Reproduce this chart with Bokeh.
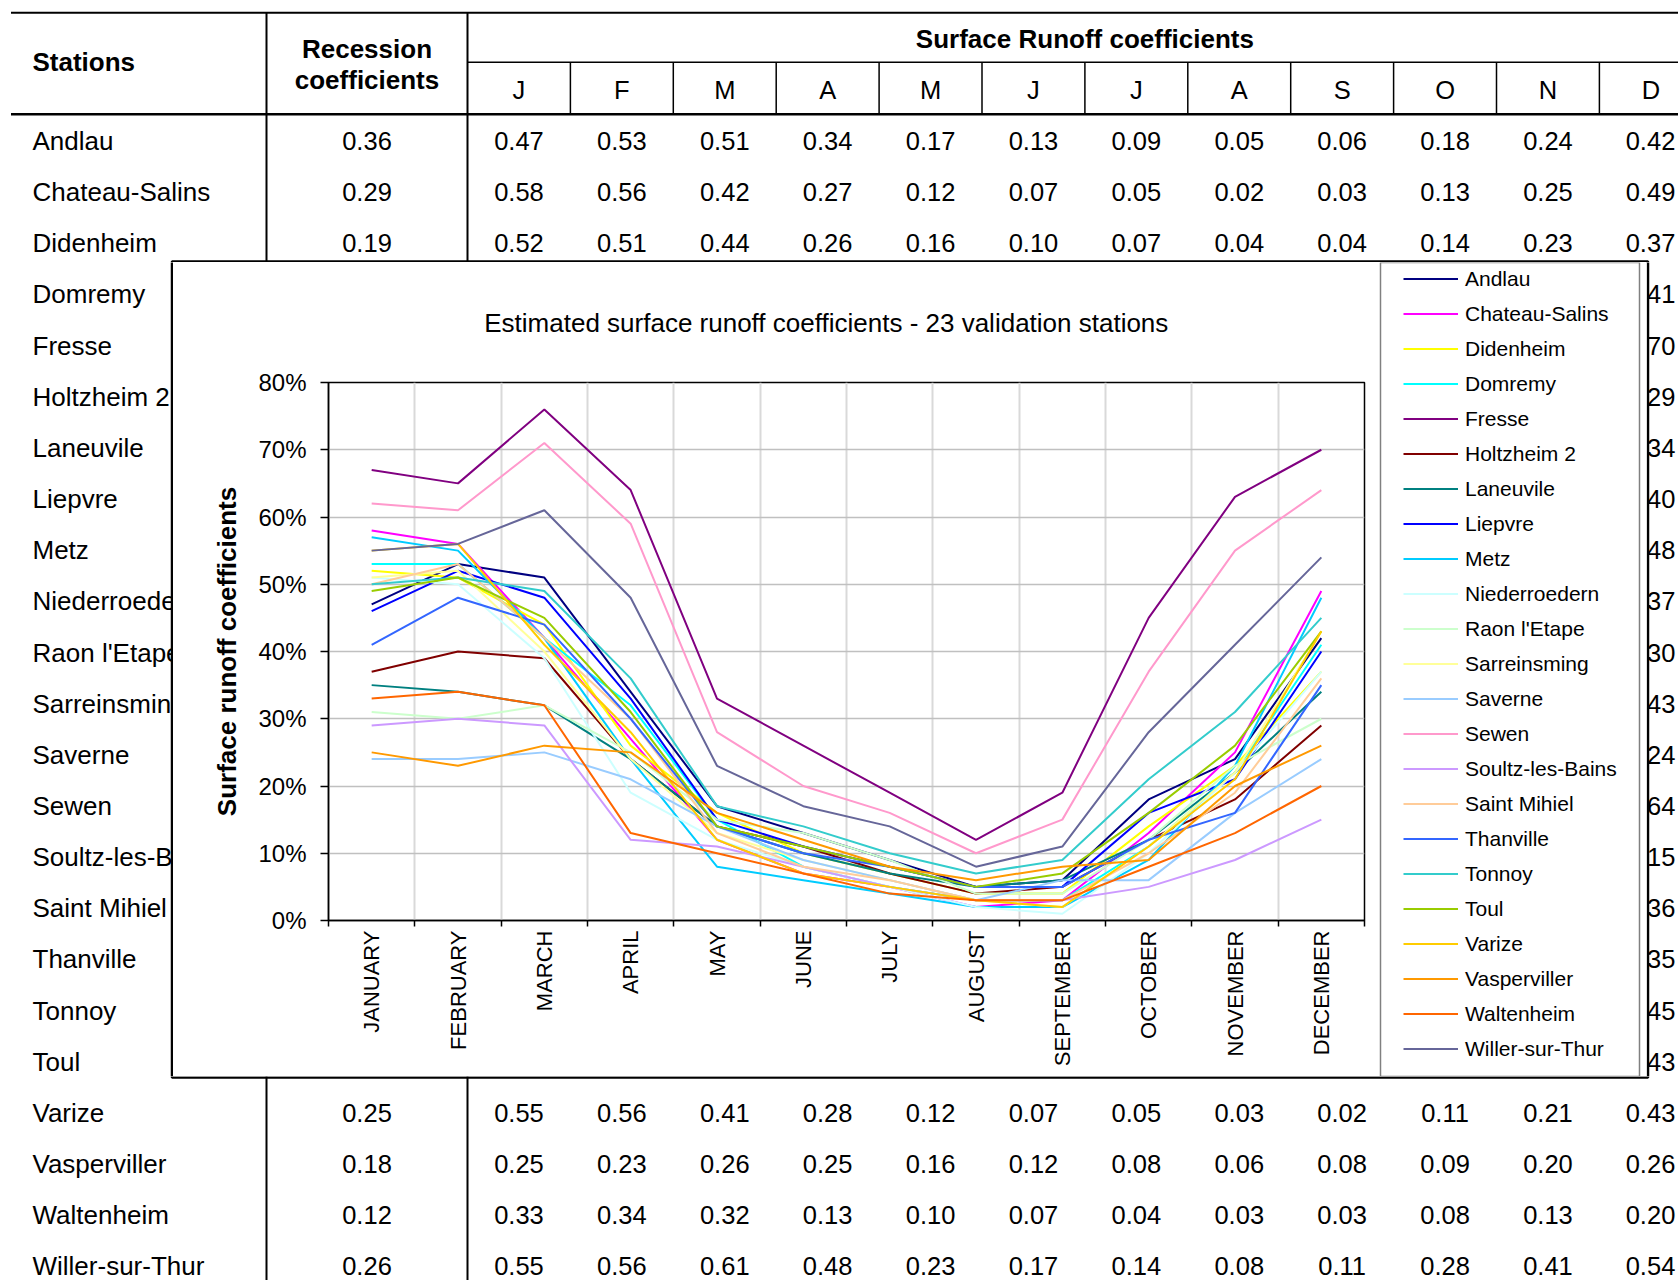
import math
from bokeh.plotting import figure
from bokeh.layouts import row, column
from bokeh.models import Range1d, FixedTicker, NumeralTickFormatter, Legend, LegendItem
from bokeh.core.properties import value
from bokeh.embed import file_html
from bokeh.resources import INLINE

# ---------------- data ----------------
stations = ["Andlau", "Chateau-Salins", "Didenheim", "Domremy", "Fresse", "Holtzheim 2",
            "Laneuvile", "Liepvre", "Metz", "Niederroedern", "Raon l'Etape", "Sarreinsming",
            "Saverne", "Sewen", "Soultz-les-Bains", "Saint Mihiel", "Thanville", "Tonnoy",
            "Toul", "Varize", "Vasperviller", "Waltenheim", "Willer-sur-Thur"]
month_letters = ["J", "F", "M", "A", "M", "J", "J", "A", "S", "O", "N", "D"]
month_names = ["JANUARY", "FEBRUARY", "MARCH", "APRIL", "MAY", "JUNE", "JULY", "AUGUST",
               "SEPTEMBER", "OCTOBER", "NOVEMBER", "DECEMBER"]

andlau         = [0.47, 0.53, 0.51, 0.34, 0.17, 0.13, 0.09, 0.05, 0.06, 0.18, 0.24, 0.42]
chateau_salins = [0.58, 0.56, 0.42, 0.27, 0.12, 0.07, 0.05, 0.02, 0.03, 0.13, 0.25, 0.49]
didenheim      = [0.52, 0.51, 0.44, 0.26, 0.16, 0.10, 0.07, 0.04, 0.04, 0.14, 0.23, 0.37]
domremy        = [0.53, 0.53, 0.42, 0.32, 0.15, 0.08, 0.05, 0.03, 0.03, 0.11, 0.22, 0.41]
fresse         = [0.67, 0.65, 0.76, 0.64, 0.33, 0.26, 0.19, 0.12, 0.19, 0.45, 0.63, 0.70]
holtzheim_2    = [0.37, 0.40, 0.39, 0.24, 0.14, 0.11, 0.07, 0.04, 0.05, 0.12, 0.18, 0.29]
laneuvile      = [0.35, 0.34, 0.32, 0.24, 0.14, 0.10, 0.07, 0.05, 0.06, 0.12, 0.22, 0.34]
liepvre        = [0.46, 0.52, 0.48, 0.33, 0.15, 0.11, 0.08, 0.05, 0.05, 0.16, 0.21, 0.40]
metz           = [0.57, 0.55, 0.42, 0.24, 0.08, 0.06, 0.04, 0.02, 0.02, 0.09, 0.23, 0.48]
niederroedern  = [0.51, 0.50, 0.39, 0.19, 0.12, 0.08, 0.05, 0.02, 0.01, 0.10, 0.22, 0.37]
raon_l_etape   = [0.31, 0.30, 0.32, 0.25, 0.15, 0.13, 0.09, 0.04, 0.04, 0.12, 0.23, 0.30]
sarreinsming   = [0.51, 0.52, 0.40, 0.24, 0.13, 0.09, 0.06, 0.03, 0.02, 0.11, 0.22, 0.43]
saverne        = [0.24, 0.24, 0.25, 0.21, 0.14, 0.09, 0.06, 0.03, 0.06, 0.06, 0.16, 0.24]
sewen          = [0.62, 0.61, 0.71, 0.59, 0.28, 0.20, 0.16, 0.10, 0.15, 0.37, 0.55, 0.64]
soultz         = [0.29, 0.30, 0.29, 0.12, 0.11, 0.08, 0.05, 0.03, 0.03, 0.05, 0.09, 0.15]
saint_mihiel   = [0.50, 0.53, 0.42, 0.30, 0.13, 0.08, 0.06, 0.03, 0.03, 0.10, 0.19, 0.36]
thanville      = [0.41, 0.48, 0.44, 0.30, 0.14, 0.10, 0.08, 0.05, 0.05, 0.12, 0.16, 0.35]
tonnoy         = [0.50, 0.51, 0.49, 0.36, 0.17, 0.14, 0.10, 0.07, 0.09, 0.21, 0.31, 0.45]
toul           = [0.49, 0.51, 0.45, 0.31, 0.14, 0.11, 0.08, 0.05, 0.07, 0.16, 0.26, 0.43]
varize         = [0.55, 0.56, 0.41, 0.28, 0.12, 0.07, 0.05, 0.03, 0.02, 0.11, 0.21, 0.43]
vasperviller   = [0.25, 0.23, 0.26, 0.25, 0.16, 0.12, 0.08, 0.06, 0.08, 0.09, 0.20, 0.26]
waltenheim     = [0.33, 0.34, 0.32, 0.13, 0.10, 0.07, 0.04, 0.03, 0.03, 0.08, 0.13, 0.20]
willer         = [0.55, 0.56, 0.61, 0.48, 0.23, 0.17, 0.14, 0.08, 0.11, 0.28, 0.41, 0.54]

series = [andlau, chateau_salins, didenheim, domremy, fresse, holtzheim_2, laneuvile, liepvre,
          metz, niederroedern, raon_l_etape, sarreinsming, saverne, sewen, soultz, saint_mihiel,
          thanville, tonnoy, toul, varize, vasperviller, waltenheim, willer]
colors = ["#000080", "#FF00FF", "#FFFF00", "#00FFFF", "#800080", "#800000", "#008080", "#0000FF",
          "#00CCFF", "#CCFFFF", "#CCFFCC", "#FFFF99", "#99CCFF", "#FF99CC", "#CC99FF", "#FFCC99",
          "#3366FF", "#33CCCC", "#99CC00", "#FFCC00", "#FF9900", "#FF6600", "#666699"]

# table rows whose every cell is visible (the chart covers the others)
table_full_rows = ["Andlau", "Chateau-Salins", "Didenheim", "Varize", "Vasperviller",
                   "Waltenheim", "Willer-sur-Thur"]
recession = [0.36, 0.29, 0.19, 0.25, 0.18, 0.12, 0.26]
y_ticks = [0.0, 0.1, 0.2, 0.3, 0.4, 0.5, 0.6, 0.7, 0.8]
title_text = "Estimated surface runoff coefficients - 23 validation stations"
y_label_text = "Surface runoff coefficients"

# ---------------- geometry (page pixels) ----------------
FONT = "Liberation Sans"
PW, PH = 1678, 1280                  # whole page used
CL, CR, CT, CB = 171.5, 1647.5, 261, 1077   # chart box
SPLIT_L, SPLIT_G, SPLIT_R = 173, 1378, 1646
MID_T, MID_B = 262, 1076
TITLE_B = 352
FX0, FX1, FY0, FY1 = 328, 1364, 382, 920    # plot frame

ROW0, ROWH = 140.4, 51.16
NAME_X, REC_X = 32, 366.5
COL0, COLW = 467.0, 102.9
D_X = 1650
TXT = "25.5px"
NTXT = "26px"
BTXT = "26px"

BOUNDS = {}


def piece(x0, x1, y0, y1):
    f = figure(width=int(x1 - x0), height=int(y1 - y0), output_backend="svg",
               toolbar_location=None, x_range=Range1d(x0, x1), y_range=Range1d(y1, y0),
               x_axis_location=None, y_axis_location=None, min_border=0)
    f.outline_line_color = None
    f.grid.visible = False
    f.background_fill_color = "white"
    f.border_fill_color = "white"
    BOUNDS[f.id] = (x0, x1, y0, y1)
    return f


def row_y(i):
    return ROW0 + ROWH * i


def col_x(k):
    return COL0 + COLW * (k + 0.5) if k < 11 else D_X


def texts(f, xs, ys, ts, align="center", size=TXT, style="normal"):
    # keep only the texts whose glyphs reach into this piece of the page
    x0, x1, y0, y1 = BOUNDS[f.id]
    px = float(size.replace("px", ""))
    keep = []
    for x, y, s in zip(xs, ys, ts):
        w = len(s) * 0.56 * px
        lo, hi = (x, x + w) if align == "left" else (x - w / 2, x + w / 2)
        if hi > x0 and lo < x1 and y + 0.42 * px > y0 and y - 0.42 * px < y1:
            keep.append((x, y, s))
    if not keep:
        return
    f.text(x=[k[0] for k in keep], y=[k[1] for k in keep], text=[k[2] for k in keep],
           text_align=align, text_baseline="middle", text_font=value(FONT),
           text_font_size=value(size), text_font_style=value(style), text_color="black")


def draw_table(f):
    texts(f, [NAME_X], [61], ["Stations"], align="left", size=BTXT, style="bold")
    texts(f, [REC_X, REC_X], [48, 79], ["Recession", "coefficients"], size=BTXT, style="bold")
    texts(f, [COL0 + COLW * 6], [38], ["Surface Runoff coefficients"], size=BTXT, style="bold")
    texts(f, [COL0 + COLW * (k + 0.5) for k in range(12)], [89] * 12, month_letters)
    texts(f, [NAME_X] * len(stations), [row_y(i) for i in range(len(stations))], stations,
          align="left", size=NTXT)
    xs, ys, ts = [], [], []
    for i, name in enumerate(stations):
        vals = series[i]
        if name in table_full_rows:
            xs.append(REC_X); ys.append(row_y(i))
            ts.append(f"{recession[table_full_rows.index(name)]:.2f}")
            for k in range(12):
                xs.append(col_x(k)); ys.append(row_y(i)); ts.append(f"{vals[k]:.2f}")
        else:
            xs.append(col_x(11)); ys.append(row_y(i)); ts.append(f"{vals[11]:.2f}")
    texts(f, xs, ys, ts)
    f.segment(x0=[10.5, COL0, 10.5], y0=[12.3, 61.8, 113.7], x1=[1700, 1700, 1700],
              y1=[12.3, 61.8, 113.7], line_color="black", line_width=[2, 1.5, 2.5])
    f.segment(x0=[266, COL0], y0=[12, 12], x1=[266, COL0], y1=[1300, 1300],
              line_color="black", line_width=2)
    seps = [COL0 + COLW * k for k in range(1, 13)]
    f.segment(x0=seps, y0=[62] * 12, x1=seps, y1=[113] * 12, line_color="black",
              line_width=1.5)
    # the chart box lies over the table
    f.quad(left=[CL], right=[CR], top=[CT], bottom=[CB], fill_color="white",
           line_color="black", line_width=2.5)


# ---- table pieces around the chart ----
top_p = piece(0, PW, 0, MID_T)
left_p = piece(0, SPLIT_L, MID_T, MID_B)
right_p = piece(SPLIT_R, PW, MID_T, MID_B)
bottom_p = piece(0, PW, MID_B, PH)
for f in (top_p, left_p, right_p, bottom_p):
    draw_table(f)

# ---- chart title ----
title_p = piece(SPLIT_L, SPLIT_G, MID_T, TITLE_B)
texts(title_p, [752], [322.5], [title_text], size="26px")

# ---- chart ----
c = figure(width=SPLIT_G - SPLIT_L, height=MID_B - TITLE_B, output_backend="svg",
           toolbar_location=None, x_range=Range1d(0, 12), y_range=Range1d(0, 0.8),
           min_border_left=FX0 - SPLIT_L, min_border_right=SPLIT_G - FX1,
           min_border_top=FY0 - TITLE_B, min_border_bottom=MID_B - FY1)
c.background_fill_color = "white"
c.border_fill_color = "white"
c.outline_line_color = "black"
c.outline_line_width = 1.5

month_pos = [k + 0.5 for k in range(12)]
for vals, col in zip(series, colors):
    c.line(x=month_pos, y=vals, line_color=col, line_width=2)

xax = c.xaxis[0]
xax.ticker = FixedTicker(ticks=month_pos, minor_ticks=list(range(13)))
xax.major_label_overrides = {pos: nm for pos, nm in zip(month_pos, month_names)}
xax.major_label_orientation = math.pi / 2
xax.major_tick_out = 0
xax.major_tick_in = 0
xax.minor_tick_out = 6
xax.minor_tick_in = 0
xax.minor_tick_line_color = "black"
xax.minor_tick_line_width = 1.5
xax.axis_line_color = "black"
xax.axis_line_width = 1.5
xax.major_label_text_font = FONT
xax.major_label_text_font_size = "22px"
xax.major_label_text_color = "black"
xax.major_label_standoff = 4

yax = c.yaxis[0]
yax.ticker = FixedTicker(ticks=y_ticks)
yax.formatter = NumeralTickFormatter(format="0%")
yax.major_tick_out = 8
yax.major_tick_in = 0
yax.major_tick_line_width = 1.5
yax.minor_tick_line_color = None
yax.axis_line_color = "black"
yax.axis_line_width = 1.5
yax.major_label_text_font = FONT
yax.major_label_text_font_size = "24px"
yax.major_label_text_color = "black"
yax.major_label_standoff = 14
yax.axis_label = y_label_text
yax.axis_label_text_font = FONT
yax.axis_label_text_font_size = "26px"
yax.axis_label_text_font_style = "bold"
yax.axis_label_text_color = "black"
yax.axis_label_standoff = 13

c.xgrid.ticker = FixedTicker(ticks=list(range(1, 12)))
c.xgrid.grid_line_color = "#d9d9d9"
c.xgrid.grid_line_width = 2
c.ygrid.ticker = FixedTicker(ticks=y_ticks[1:-1])
c.ygrid.grid_line_color = "#c0c0c0"
c.ygrid.grid_line_width = 1.5

# ---- legend panel ----
leg_p = piece(SPLIT_G, SPLIT_R, MID_T, MID_B)
leg_p.quad(left=[1380], right=[1639], top=[262], bottom=[1076], fill_alpha=0,
           line_color="#808080", line_width=1.5)
# legend keys: same styles as the chart lines, drawn off this panel's visible range
keys = [leg_p.line(x=[SPLIT_G - 60, SPLIT_G - 50], y=[MID_T - 60, MID_T - 60],
                   line_color=col, line_width=2) for col in colors]
LEG_TOP = 266
ROW_H, SPACING = 25, 10
leg_h = len(stations) * ROW_H + (len(stations) - 1) * SPACING
legend = Legend(items=[LegendItem(label=n, renderers=[r]) for n, r in zip(stations, keys)],
                location=(1403 - SPLIT_G, MID_B - (LEG_TOP + leg_h)),
                orientation="vertical", glyph_width=55, glyph_height=ROW_H, label_height=ROW_H,
                label_standoff=7, spacing=SPACING, padding=0, margin=0,
                border_line_alpha=0, background_fill_alpha=0,
                label_text_font=FONT, label_text_font_size="21px", label_text_color="black")
leg_p.add_layout(legend)

layout = column(top_p,
                row(left_p, column(title_p, c, spacing=0), leg_p, right_p, spacing=0),
                bottom_p, spacing=0)

with open("out.html", "w") as fh:
    fh.write(file_html(layout, INLINE))
